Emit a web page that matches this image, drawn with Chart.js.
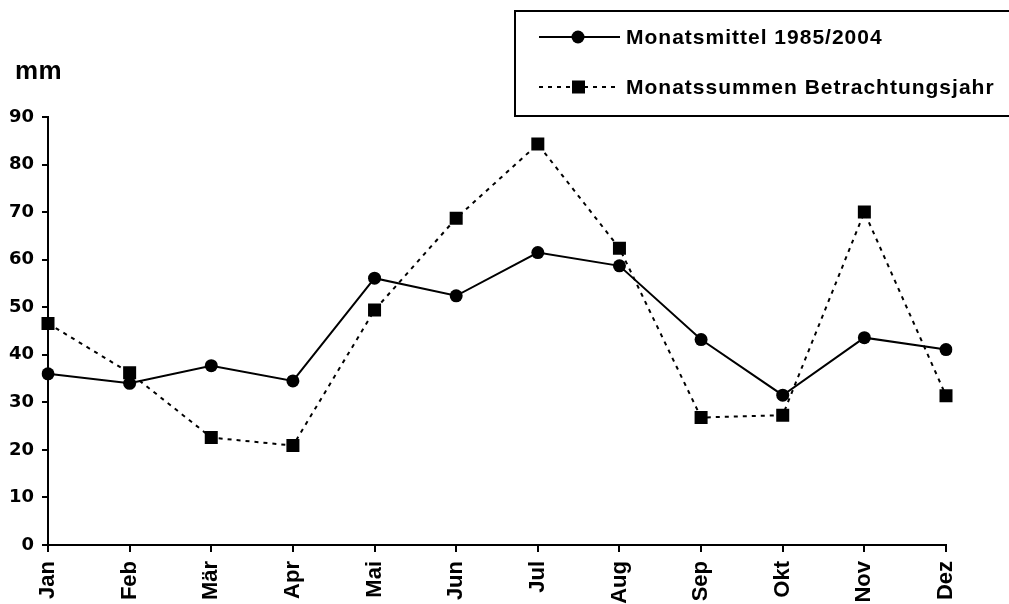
<!DOCTYPE html>
<html>
<head>
<meta charset="utf-8">
<script src="https://cdn.jsdelivr.net/npm/chart.js@4/dist/chart.umd.min.js"></script>
<style>
  html, body { margin: 0; padding: 0; background: #fff; }
  canvas { display: block; }
</style>
</head>
<body>
<canvas id="chart" width="1009" height="604"></canvas>
<script>
// ---------- DATA ----------
const months = ["Jan", "Feb", "Mär", "Apr", "Mai", "Jun", "Jul", "Aug", "Sep", "Okt", "Nov", "Dez"];
const mittel = [36.0, 34.0, 37.7, 34.5, 56.1, 52.4, 61.5, 58.7, 43.2, 31.5, 43.6, 41.1];
const summen = [46.6, 36.2, 22.6, 20.9, 49.4, 68.7, 84.3, 62.4, 26.8, 27.3, 70.0, 31.4];
const seriesNames = ["Monatsmittel 1985/2004", "Monatssummen Betrachtungsjahr"];
const yUnit = "mm";

Chart.defaults.font.family = "'Liberation Sans', Arial, sans-serif";
Chart.defaults.color = "#000";

// legend box + unit label drawn by hand (the built-in legend can't do the boxed look)
const extras = {
  id: "extras",
  afterDraw(chart) {
    const ctx = chart.ctx;
    ctx.save();
    // unit
    ctx.font = "bold 26px 'Liberation Sans', Arial, sans-serif";
    ctx.fillStyle = "#000";
    ctx.textBaseline = "alphabetic";
    ctx.textAlign = "left";
    ctx.letterSpacing = "0.5px";
    ctx.fillText(yUnit, 15, 79);
    ctx.letterSpacing = "0px";

    // legend frame
    ctx.lineWidth = 2;
    ctx.strokeStyle = "#000";
    ctx.strokeRect(515, 11, 520, 105);

    const rows = [37, 87];
    chart.data.datasets.forEach((ds, i) => {
      const y = rows[i];
      ctx.lineWidth = 2;
      ctx.setLineDash(ds.borderDash || []);
      ctx.beginPath();
      ctx.moveTo(539, y);
      ctx.lineTo(620, y);
      ctx.stroke();
      ctx.setLineDash([]);
      ctx.fillStyle = "#000";
      if (ds.pointStyle === "rect") {
        ctx.fillRect(572, y - 6.5, 13, 13);
      } else {
        ctx.beginPath();
        ctx.arc(578, y, 6.5, 0, Math.PI * 2);
        ctx.fill();
      }
      ctx.font = "bold 21px 'Liberation Sans', Arial, sans-serif";
      ctx.letterSpacing = "1px";
      ctx.textBaseline = "middle";
      ctx.fillText(ds.label, 626, y + 1);
      ctx.letterSpacing = "0px";
    });
    ctx.restore();
  }
};

new Chart(document.getElementById("chart"), {
  type: "line",
  data: {
    labels: months,
    datasets: [
      {
        label: seriesNames[0],
        data: mittel,
        borderColor: "#000",
        backgroundColor: "#000",
        borderWidth: 2,
        pointStyle: "circle",
        pointRadius: 6.5,
        pointBorderWidth: 0,
        tension: 0
      },
      {
        label: seriesNames[1],
        data: summen,
        borderColor: "#000",
        backgroundColor: "#000",
        borderWidth: 2,
        borderDash: [4, 5],
        pointStyle: "rect",
        pointRadius: 9.2,
        pointBorderWidth: 0,
        tension: 0
      }
    ]
  },
  options: {
    responsive: false,
    animation: false,
    layout: { padding: { top: 117, right: 63, left: 0, bottom: 0 } },
    plugins: { legend: { display: false }, tooltip: { enabled: false } },
    scales: {
      x: {
        offset: false,
        grid: { drawOnChartArea: false, drawTicks: true, tickLength: 7, color: "#000", lineWidth: 2 },
        border: { display: true, color: "#000", width: 2 },
        ticks: {
          autoSkip: false,
          maxRotation: 90,
          minRotation: 90,
          padding: 9,
          font: { size: 22, weight: "bold" }
        },
        afterFit(scale) { scale.height = 59; }
      },
      y: {
        min: 0,
        max: 90,
        grid: { drawOnChartArea: false, drawTicks: true, tickLength: 6, color: "#000", lineWidth: 2 },
        border: { display: true, color: "#000", width: 2 },
        ticks: {
          stepSize: 10,
          padding: 8,
          font: { family: "'DejaVu Sans', sans-serif", size: 18, weight: "bold" }
        },
        afterFit(scale) { scale.width = 48; }
      }
    }
  },
  plugins: [extras]
});
</script>
</body>
</html>
